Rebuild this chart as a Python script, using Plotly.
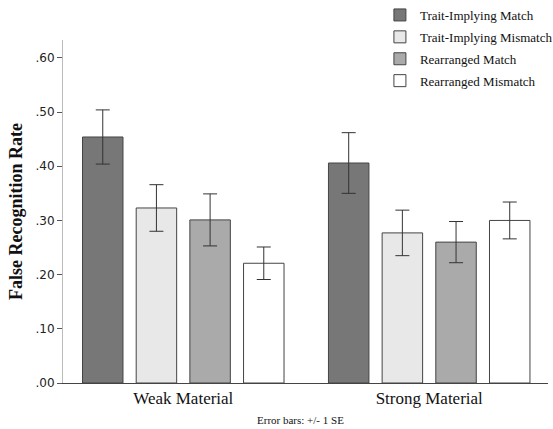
import plotly.graph_objects as go

categories = ["Weak Material", "Strong Material"]
series_names = ["Trait-Implying Match", "Trait-Implying Mismatch", "Rearranged Match", "Rearranged Mismatch"]
values = [
    [0.454, 0.406],
    [0.323, 0.277],
    [0.301, 0.260],
    [0.221, 0.300],
]
errors = [
    [0.050, 0.056],
    [0.043, 0.042],
    [0.048, 0.038],
    [0.030, 0.034],
]
colors = ["#777777", "#e8e8e8", "#aaaaaa", "#ffffff"]
ytick_vals = [0, 0.1, 0.2, 0.3, 0.4, 0.5, 0.6]
ytick_text = [".00", ".10", ".20", ".30", ".40", ".50", ".60"]

fig = go.Figure()
xpos = list(range(len(categories)))
for i, name in enumerate(series_names):
    fig.add_trace(go.Bar(
        x=xpos, y=values[i], name=name,
        legendgroup=name,
        marker=dict(color=colors[i], line=dict(color="#444444", width=1)),
        error_y=dict(type="data", array=errors[i], visible=True,
                     color="#333333", thickness=1, width=7),
    ))

fig.update_layout(
    width=553, height=429,
    margin=dict(l=63, r=5, t=40, b=46, autoexpand=False),
    paper_bgcolor="white", plot_bgcolor="white",
    barmode="group", bargap=0.127, bargroupgap=0.246,
    font=dict(family="Liberation Serif", color="#000000"),
    legend=dict(xref="container", yref="container", x=0.687, y=1.0,
                xanchor="left", yanchor="top",
                font=dict(family="Liberation Serif", size=13, color="#111111"),
                bgcolor="rgba(0,0,0,0)", tracegroupgap=2, traceorder="grouped"),
    showlegend=True,
)
fig.update_xaxes(
    tickmode="array", tickvals=xpos, ticktext=categories, automargin=False,
    range=[-0.489, 1.483], showgrid=False, zeroline=False,
    showline=True, linecolor="#444444", linewidth=1, ticks="",
    tickfont=dict(family="Liberation Serif", size=17, color="#111111"),
)
fig.update_yaxes(
    range=[0, 0.633], tickmode="array", tickvals=ytick_vals, ticktext=ytick_text,
    automargin=False,
    showgrid=False, zeroline=False, showline=True, linecolor="#bbbbbb", linewidth=1,
    ticks="outside", ticklen=5, tickcolor="#555555",
    tickfont=dict(family="DejaVu Sans", size=12, color="#222222"),
    title=dict(text="<b>False Recognition Rate</b>", standoff=8,
               font=dict(family="Liberation Serif", size=18, color="#111111")),
)
fig.add_annotation(text="Error bars: +/- 1 SE", xref="paper", yref="paper",
                   x=0.49, y=-0.108, xanchor="center", yanchor="middle", showarrow=False,
                   font=dict(family="Liberation Serif", size=11, color="#111111"))

fig.write_html("out.html", config={"displayModeBar": False},
               post_script="document.body.style.margin='0';document.body.style.overflow='hidden';")
